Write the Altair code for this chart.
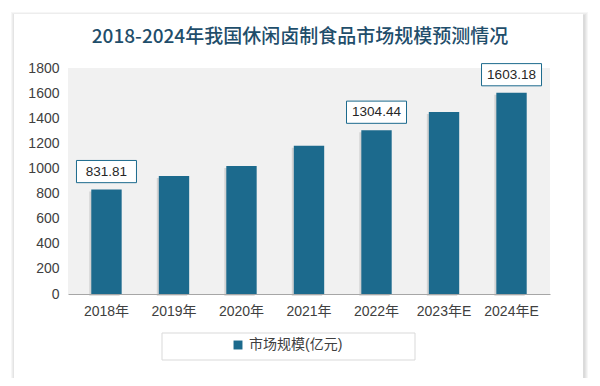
import altair as alt
import pandas as pd

# ---- data ----
years = ["2018年", "2019年", "2020年", "2021年", "2022年", "2023年E", "2024年E"]
values = [831.81, 940, 1020, 1180, 1304.44, 1450, 1603.18]
show_label = [True, False, False, False, True, False, True]
series_name = "市场规模(亿元)"
title_text = "2018-2024年我国休闲卤制食品市场规模预测情况"
y_ticks = [0, 200, 400, 600, 800, 1000, 1200, 1400, 1600, 1800]

bar_color = "#1c6a8d"
font = "Liberation Sans, 'Noto Sans CJK SC', sans-serif"

df = pd.DataFrame({"year": years, "value": values, "show": show_label})
df["series"] = series_name
df["label"] = [f"{v:.2f}" for v in values]

W, H = 482, 226
one = pd.DataFrame({"k": [0]})

def box(x, x2, y, y2, **kw):
    return alt.Chart(one).mark_rect(**kw).encode(
        x=alt.value(x), x2=alt.value(x2), y=alt.value(y), y2=alt.value(y2))

# card with soft shadow
shadow = [box(-54 - i, 515 + 2 + i, -54 - i + 1, 311 + 2 + i, color="#000000", opacity=0.035) for i in range(4)]
card = box(-54, 515, -54, 311, color="#ffffff")
plot_bg = box(0, W, 0, H, color="#f1f1f1")

xenc = alt.X("year:N", sort=years,
             scale=alt.Scale(paddingInner=0.55, paddingOuter=0.345),
             axis=alt.Axis(title=None, labelAngle=0, ticks=False, domainColor="#a6a6a6",
                           labelPadding=10, labelFontSize=14, labelColor="#404040",
                           labelFont=font, zindex=2))
yenc = alt.Y("value:Q", scale=alt.Scale(domain=[0, 1800], nice=False),
             axis=alt.Axis(title=None, values=y_ticks, format="d", grid=False, domain=False, ticks=False,
                           labelPadding=9, labelFontSize=14, labelColor="#404040",
                           labelFont=font, zindex=2))

bar_shadow = alt.Chart(df).mark_bar(color="#000000", opacity=0.12, xOffset=-2, yOffset=2).encode(
    x=xenc, y=yenc)

bars = alt.Chart(df).mark_bar().encode(
    x=xenc, y=yenc,
    color=alt.Color("series:N", scale=alt.Scale(range=[bar_color]),
                    legend=alt.Legend(title=None, orient="none", legendX=163, legendY=270,
                                      symbolType="square", symbolSize=80, symbolStrokeWidth=0,
                                      labelFontSize=14, labelColor="#404040", labelFont=font,
                                      padding=0)))

box_path = "M-1,-0.37L1,-0.37L1,0.37L-1,0.37Z"
label_boxes = alt.Chart(df).transform_filter("datum.show").mark_point(
    shape=box_path, size=60 * 60, filled=True, fill="#ffffff", stroke=bar_color,
    strokeWidth=1, opacity=1, fillOpacity=1, strokeOpacity=1, yOffset=-18).encode(x=xenc, y=yenc)
label_text = alt.Chart(df).transform_filter("datum.show").mark_text(
    yOffset=-18, baseline="middle", fontSize=13.5, font=font, color="#262626").encode(
    x=xenc, y=yenc, text="label:N")

legend_box = box(94, 347, 265, 292, fill="#ffffff", stroke="#d9d9d9", strokeWidth=1)

title = alt.Chart(one).mark_text(
    text=title_text, fontSize=19, font="'Noto Sans CJK SC', sans-serif", fontWeight=500,
    color="#1f4e6b", baseline="middle", align="center").encode(
    x=alt.value(232), y=alt.value(-31))

chart = alt.layer(*shadow, card, plot_bg, legend_box, bar_shadow, bars, label_boxes, label_text, title).properties(
    width=W, height=H,
    padding={"left": 60, "top": 60, "right": 42, "bottom": 84},
    autosize=alt.AutoSizeParams(type="none"),
    background="#ffffff",
).configure_view(stroke=None)

chart.save("out.html", embed_options={"renderer": "svg", "actions": False})
